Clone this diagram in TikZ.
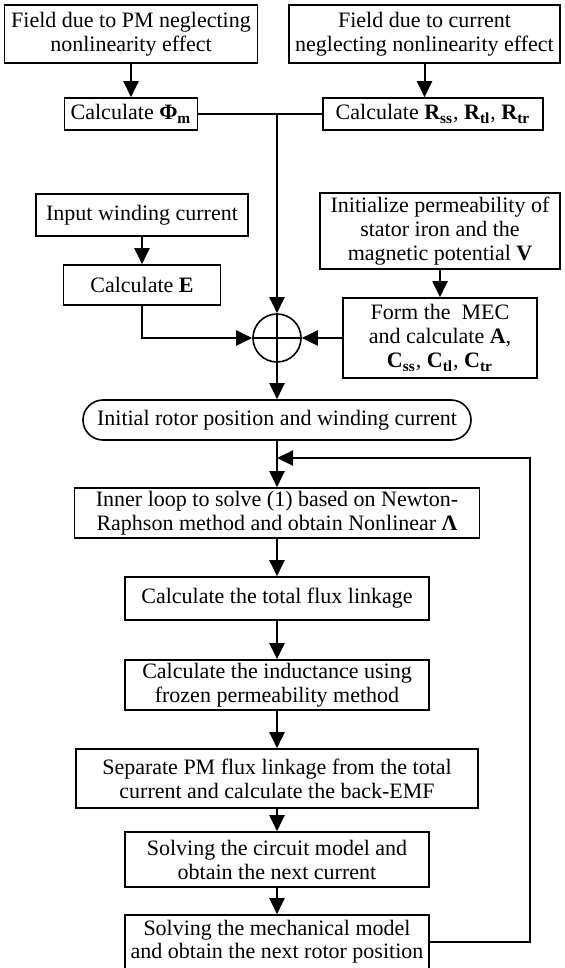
\documentclass[tikz,border=0pt]{standalone}
\usepackage{fontspec}
\setmainfont{Liberation Serif}
\usetikzlibrary{arrows.meta}
\tikzset{
	blk/.style = {draw, line width=0.8pt, align=center, inner sep=0pt, font=\fontsize{11}{12}\selectfont},
	flow/.style = {line width=1pt, -{Triangle[width=7.5pt,length=8pt]}},
	link/.style = {line width=1pt}
}
\newcommand{\bsub}[2]{\textbf{#1\textsubscript{#2}}}
\begin{document}
\begin{tikzpicture}[x=0.5pt, y=-0.5pt]
	\useasboundingbox (0,0) rectangle (564,968);
	\node[blk, minimum width=126.5pt, minimum height=29pt] (fieldpm) at (131,34) {Field due to PM neglecting\\nonlinearity effect};
	\node[blk, minimum width=135.5pt, minimum height=29pt] (fieldcur) at (424.5,34) {Field due to current\\neglecting nonlinearity effect};
	\node[blk, minimum width=66.5pt, minimum height=16pt] (calcphi) at (131,114) {Calculate \bsub{Φ}{m}};
	\node[blk, minimum width=110pt, minimum height=16pt] (calcr) at (433,114) {Calculate \bsub{R}{ss}, \bsub{R}{tl}, \bsub{R}{tr}};
	\node[blk, minimum width=106pt, minimum height=21pt] (inputwc) at (142,215) {Input winding current};
	\node[blk, minimum width=78.5pt, minimum height=20pt] (calce) at (142,285) {Calculate \textbf{E}};
	\node[blk, minimum width=120pt, minimum height=38pt] (init) at (440,231) {Initialize permeability of\\stator iron and the\\magnetic potential \textbf{V}};
	\node[blk, minimum width=97pt, minimum height=40pt] (form) at (440,338) {Form the~ MEC\\and calculate \textbf{A},\\\bsub{C}{ss}, \bsub{C}{tl}, \bsub{C}{tr}};
	\node[draw, circle, line width=0.8pt, minimum size=24pt, inner sep=0pt] (sum) at (277,338) {};
	\node[blk, minimum width=194pt, minimum height=20pt, rounded corners=10pt] (start) at (277,420) {Initial rotor position and winding current};
	\node[blk, minimum width=202.5pt, minimum height=25pt] (inner) at (277,513) {Inner loop to solve (1) based on Newton-\\Raphson method and obtain Nonlinear \textbf{Λ}};
	\node[blk, minimum width=152pt, minimum height=21.5pt] (flux) at (277,598.5) {Calculate the total flux linkage};
	\node[blk, minimum width=152pt, minimum height=25pt] (induct) at (277,685) {Calculate the inductance using\\frozen permeability method};
	\node[blk, minimum width=201pt, minimum height=29.5pt] (separate) at (277,778.5) {Separate PM flux linkage from the total\\current and calculate the back-EMF};
	\node[blk, minimum width=152pt, minimum height=27.5pt] (circuit) at (277,859.5) {Solving the circuit model and\\obtain the next current};
	\node[blk, minimum width=152pt, minimum height=27pt, font=\fontsize{11}{11.5}\selectfont] (mech) at (277,942) {Solving the mechanical model\\and obtain the next rotor position};
	\coordinate (join) at (277,114);
	\coordinate (back) at (530,458);
	\coordinate (backend) at (277,458);

	\draw[line width=0.8pt] (sum.north) -- (sum.south) (sum.west) -- (sum.east);
	\draw[flow] (fieldpm.south) -- (fieldpm.south |- calcphi.north);
	\draw[flow] (fieldcur.south) -- (fieldcur.south |- calcr.north);
	\draw[link] (calcphi.east) -- (join) -- (calcr.west);
	\draw[flow] (join) -- (sum.north);
	\draw[flow] (inputwc.south) -- (calce.north);
	\draw[flow] (calce.south) |- (sum.west);
	\draw[flow] (init.south) -- (form.north);
	\draw[flow] (form.west) -- (sum.east);
	\draw[flow] (sum.south) -- (start.north);
	\draw[flow] (start.south) -- (inner.north);
	\draw[flow] (inner.south) -- (flux.north);
	\draw[flow] (flux.south) -- (induct.north);
	\draw[flow] (induct.south) -- (separate.north);
	\draw[flow] (separate.south) -- (circuit.north);
	\draw[flow] (circuit.south) -- (mech.north);
	\draw[flow] (mech.east) -| (back) -- (backend);
\end{tikzpicture}
\end{document}
